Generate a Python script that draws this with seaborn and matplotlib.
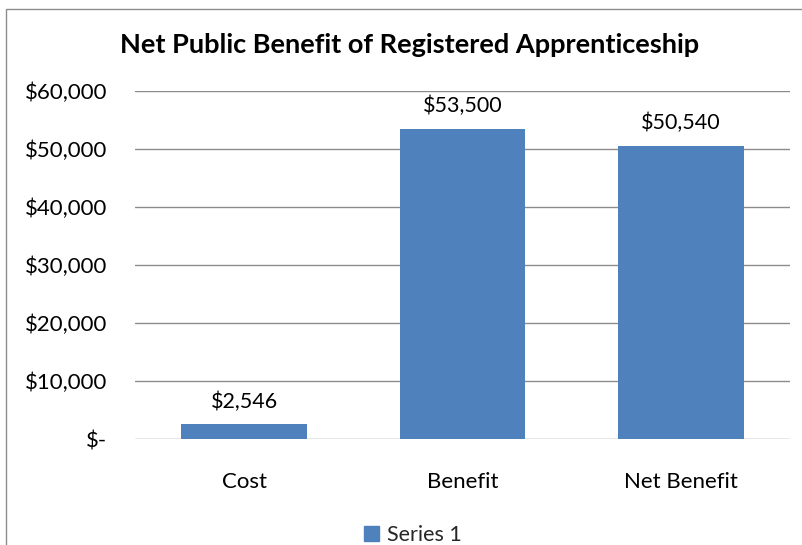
import matplotlib
matplotlib.use("Agg")
import matplotlib.pyplot as plt
import matplotlib.patches as mpatches
import seaborn as sns
import pandas as pd

categories = ["Cost", "Benefit", "Net Benefit"]
values = [2546, 53500, 50540]
value_labels = ["$2,546", "$53,500", "$50,540"]
tick_values = [0, 10000, 20000, 30000, 40000, 50000, 60000]
tick_labels = ["$-", "$10,000", "$20,000", "$30,000", "$40,000", "$50,000", "$60,000"]
series_name = "Series 1"
title = "Net Public Benefit of Registered Apprenticeship"

sns.set_theme(style="white")
plt.rcParams["font.family"] = ["Lato", "DejaVu Sans"]

bar_color = "#4F81BD"
df = pd.DataFrame({"category": categories, "value": values})

fig = plt.figure(figsize=(8.02, 5.45), dpi=100)
ax = fig.add_axes([135 / 802, 1 - 439 / 545, (790 - 135) / 802, (439 - 91) / 545])

sns.barplot(data=df, x="category", y="value", color=bar_color, saturation=1,
            width=0.575, linewidth=0, ax=ax, zorder=3)

ax.set_ylim(0, 60000)
ax.set_xlim(-0.5, 2.5)
ax.set_yticks(tick_values)
ax.set_yticklabels(tick_labels)
ax.yaxis.grid(True, color="#8c8c8c", linewidth=1.0, zorder=0)
ax.set_axisbelow(True)
for s in ax.spines.values():
    s.set_visible(False)
ax.set_xlabel("")
ax.set_ylabel("")
ax.tick_params(axis="both", length=0, labelsize=16, colors="black")
ax.tick_params(axis="y", pad=20)
ax.tick_params(axis="x", pad=24)

for i, (v, lab) in enumerate(zip(values, value_labels)):
    ax.annotate(lab, (i, v), xytext=(0, 9), textcoords="offset points",
                ha="center", va="bottom", fontsize=15.5, color="black")

fig.text(410 / 802, 1 - 45 / 545, title, ha="center", va="center",
         fontsize=19.5, fontweight="bold", color="black")

handle = mpatches.Patch(color=bar_color, label=series_name)
fig.legend(handles=[handle], loc="center", bbox_to_anchor=(413 / 802, 1 - 535 / 545),
           frameon=False, fontsize=15.5, handlelength=0.7, handleheight=0.7,
           handletextpad=0.4)

# outer chart border
border = mpatches.Rectangle((6 / 802, -0.05), 1.0, 1 - 9 / 545 + 0.05,
                            transform=fig.transFigure, fill=False,
                            edgecolor="#8c8c8c", linewidth=1.0)
fig.add_artist(border)

fig.savefig("out.png", dpi=100)
